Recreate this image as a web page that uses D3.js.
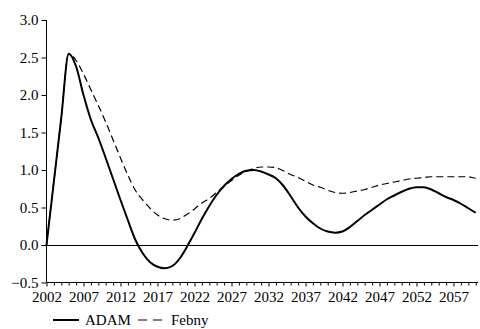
<!DOCTYPE html>
<html><head><meta charset="utf-8">
<script src="https://cdn.jsdelivr.net/npm/d3@7"></script>
<style>body{margin:0;background:#fff}svg{display:block}</style>
</head><body>
<script>
const years = d3.range(2002, 2061);
const adam = [0,0.85,1.7,2.55,2.38,2.0,1.67,1.43,1.16,0.88,0.6,0.33,0.07,-0.11,-0.23,-0.29,-0.31,-0.28,-0.18,-0.02,0.16,0.35,0.52,0.67,0.79,0.88,0.95,0.99,1.0,0.98,0.94,0.89,0.79,0.65,0.5,0.38,0.29,0.22,0.18,0.165,0.18,0.24,0.32,0.4,0.47,0.54,0.61,0.66,0.71,0.75,0.77,0.77,0.74,0.69,0.64,0.6,0.55,0.49,0.43];
const febny = [0,0.85,1.7,2.55,2.46,2.28,2.07,1.86,1.64,1.4,1.16,0.93,0.73,0.6,0.49,0.4,0.35,0.33,0.35,0.41,0.48,0.56,0.62,0.7,0.78,0.86,0.93,0.98,1.02,1.04,1.04,1.03,0.99,0.94,0.9,0.85,0.8,0.77,0.73,0.7,0.69,0.7,0.72,0.74,0.77,0.8,0.82,0.84,0.86,0.88,0.89,0.9,0.91,0.91,0.91,0.91,0.91,0.91,0.89,0.87];
const yTicks = [-0.5,0,0.5,1.0,1.5,2.0,2.5,3.0];
const xLabelYears = d3.range(2002, 2061, 5);
const seriesNames = ["ADAM","Febny"];

const FONT = "Liberation Serif, Tinos, Times New Roman, DejaVu Serif, serif";
const W=480,H=329;
const svg=d3.select("body").append("svg").attr("width",W).attr("height",H);
const x=d3.scaleLinear().domain([2002,2060]).range([46.5,475.7]);
const y=d3.scaleLinear().domain([-0.5,3.0]).range([282.5,20]);

// zero line
svg.append("line").attr("x1",46.5).attr("x2",478).attr("y1",245.5).attr("y2",245.5)
  .attr("stroke","#000").attr("stroke-width",1);

// y axis
const ya=svg.append("g").attr("transform","translate(46.5,0)")
  .call(d3.axisLeft(y).tickValues(yTicks).tickFormat(d3.format(".1f")).tickSize(5).tickPadding(3));
ya.select(".domain").attr("stroke","#000").attr("d","M0,"+y(3.0)+"V"+y(-0.5));

// x axis
const xa=svg.append("g").attr("transform","translate(0,"+y(-0.5)+")")
  .call(d3.axisBottom(x).tickValues(years).tickSize(3).tickFormat(d=>xLabelYears.includes(d)?String(d):"").tickPadding(6));
xa.select(".domain").attr("stroke","#000").attr("d","M46.5,0H478");
xa.selectAll(".tick line").attr("y2",d=>xLabelYears.includes(d)?4:3);

[ya,xa].forEach(g=>{g.attr("font-family",FONT).attr("font-size",15);
  g.selectAll("text").style("font-family",FONT).style("font-size","15px").attr("fill","#000");});

const line=d3.line().x((d,i)=>x(years[i])).y(d=>y(d)).curve(d3.curveMonotoneX);
svg.append("path").datum(febny).attr("d",line).attr("fill","none").attr("stroke","#000")
  .attr("stroke-width",1.2).attr("stroke-dasharray","7,4");
svg.append("path").datum(adam).attr("d",line).attr("fill","none").attr("stroke","#000")
  .attr("stroke-width",2);

// legend
const lg=svg.append("g");
lg.append("line").attr("x1",53).attr("x2",79).attr("y1",320).attr("y2",320).attr("stroke","#000").attr("stroke-width",2);
lg.append("text").attr("x",85).attr("y",325).text(seriesNames[0]).style("font-family",FONT).style("font-size","15px");
lg.append("line").attr("x1",138).attr("x2",164).attr("y1",320).attr("y2",320).attr("stroke","#000").attr("stroke-width",1.2).attr("stroke-dasharray","9,6");
lg.append("text").attr("x",171).attr("y",325).text(seriesNames[1]).style("font-family",FONT).style("font-size","15px");
</script>
</body></html>
